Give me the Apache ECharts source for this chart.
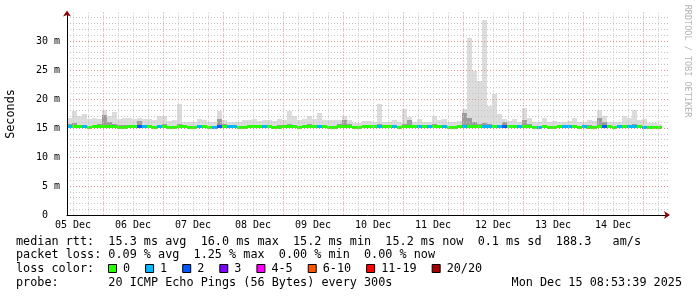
<!DOCTYPE html>
<html><head><meta charset="utf-8">
<script src="https://cdn.jsdelivr.net/npm/echarts@6/dist/echarts.min.js"></script>
<style>html,body{margin:0;padding:0;background:#fff}#c{width:697px;height:297px}</style>
</head><body><div id="c"></div>
<script>
// ---- axis ranges (x in days of December, y in milliseconds) ----
const X_START = 5.4, X_END = 15.4167;
const Y_MAX = 34.9;
const BIN_DAYS = 1 / 12;      // 2 hour consolidation
const SMOKE_MIN = 15.0;

// ---- data (one value per 2 h bin, starting at X_START) ----
const smokeHi = [
 16.8,18.0,17.0,17.4,16.5,16.7,16.5,18.1,17.0,17.7,
 16.6,16.8,16.8,16.5,16.8,16.5,16.6,16.4,17.0,17.1,
 16.2,16.3,19.1,16.0,16.0,16.1,16.6,16.3,16.0,16.0,
 18.0,16.3,16.0,16.0,16.1,16.4,16.3,16.6,16.2,16.4,
 16.4,16.2,16.6,16.3,17.9,17.0,16.4,16.5,17.0,16.5,
 17.5,16.4,16.3,16.3,16.4,17.1,16.4,15.9,15.9,16.2,
 16.2,16.0,19.1,16.0,16.0,16.3,16.0,18.3,16.9,16.0,
 16.6,16.0,16.0,17.0,16.3,16.6,16.0,16.0,16.2,18.3,
 30.5,24.8,23.1,33.6,18.8,20.8,17.4,16.6,16.2,16.6,
 16.0,18.5,16.8,16.0,16.0,16.8,16.0,16.2,16.0,16.1,
 16.2,16.7,16.1,16.0,16.4,16.2,18.1,17.0,16.0,16.0,
 16.1,17.1,16.8,18.1,16.3,16.6,15.9,15.8,15.6
];
const smokeCore = [
 15.6,15.8,15.5,15.5,15.4,15.5,15.6,17.3,16.0,15.6,
 15.5,15.5,15.5,15.4,16.2,15.5,15.4,15.4,15.5,15.6,
 15.4,15.4,15.6,15.4,15.4,15.4,15.5,15.4,15.4,15.4,
 16.5,15.6,15.4,15.4,15.4,15.4,15.4,15.5,15.4,15.4,
 15.4,15.4,15.5,15.4,15.6,15.5,15.4,15.5,15.6,15.4,
 15.5,15.4,15.4,15.4,15.6,16.4,15.6,15.4,15.4,15.4,
 15.4,15.4,15.6,15.4,15.4,15.4,15.4,15.7,16.3,15.4,
 15.5,15.4,15.4,15.6,15.4,15.4,15.4,15.4,15.4,17.6,
 16.8,16.0,15.6,15.8,15.6,15.5,15.5,16.0,15.5,15.5,
 15.4,16.4,15.6,15.4,15.4,15.5,15.4,15.4,15.4,15.4,
 15.4,15.5,15.4,15.4,15.5,15.4,16.8,16.0,15.4,15.4,
 15.4,15.5,15.5,15.6,15.4,15.4,15.4,15.4,15.4
];
const medianRtt = [
 15.2,15.3,15.2,15.2,15.1,15.2,15.2,15.3,15.2,15.2,
 15.1,15.1,15.2,15.2,15.3,15.2,15.2,15.1,15.2,15.2,
 15.1,15.1,15.2,15.2,15.1,15.1,15.2,15.2,15.1,15.1,
 15.3,15.2,15.2,15.2,15.1,15.1,15.2,15.2,15.2,15.2,
 15.2,15.1,15.1,15.2,15.2,15.2,15.1,15.2,15.2,15.2,
 15.2,15.2,15.1,15.1,15.2,15.2,15.2,15.1,15.1,15.2,
 15.2,15.2,15.2,15.2,15.2,15.2,15.1,15.2,15.2,15.2,
 15.2,15.2,15.2,15.2,15.2,15.2,15.1,15.1,15.2,15.3,
 15.3,15.2,15.2,15.2,15.2,15.2,15.2,15.3,15.2,15.2,
 15.2,15.2,15.2,15.1,15.1,15.2,15.1,15.1,15.2,15.2,
 15.2,15.2,15.1,15.2,15.1,15.1,15.3,15.3,15.2,15.1,
 15.2,15.2,15.2,15.2,15.2,15.1,15.1,15.1,15.1
];
const lossCount = [
 1,0,0,1,0,0,0,0,0,0,
 0,0,0,0,2,1,0,0,1,0,
 0,0,0,0,0,0,1,0,0,1,
 2,0,1,1,0,0,0,0,0,1,
 0,0,0,0,0,0,0,0,0,0,
 1,0,0,0,0,0,0,0,0,0,
 0,0,1,0,0,1,0,0,0,0,
 1,0,1,0,0,1,0,0,0,1,
 0,0,0,1,1,0,1,2,0,0,
 1,0,0,0,1,0,0,0,0,1,
 1,0,0,1,0,0,0,2,0,0,
 1,0,1,1,0,1,0,0,0
];

// ---- ticks / labels ----
const xLabelDays = [5.5,6.5,7.5,8.5,9.5,10.5,11.5,12.5,13.5,14.5];
const xLabels = ['05 Dec','06 Dec','07 Dec','08 Dec','09 Dec','10 Dec','11 Dec','12 Dec','13 Dec','14 Dec'];
const xMajorDays = [6,7,8,9,10,11,12,13,14,15];
const X_MINOR_STEP = 0.25;
const yLabelVals = [0,5,10,15,20,25,30];
const Y_MINOR_STEP = 1;

// ---- legend ----
const lossLabels = ['0','1','2','3','4-5','6-10','11-19','20/20'];
const lossColors = ['#26ff00','#00b8ff','#0059ff','#7e00ff','#ff00ff','#ff5500','#ff0000','#a10000'];
const statLines = [
 'median rtt:  15.3 ms avg  16.0 ms max  15.2 ms min  15.2 ms now  0.1 ms sd  188.3   am/s',
 'packet loss: 0.09 % avg  1.25 % max  0.00 % min  0.00 % now',
 'loss color:',
 'probe:       20 ICMP Echo Pings (56 Bytes) every 300s'
];
const stamp = 'Mon Dec 15 08:53:39 2025';
const watermark = 'RRDTOOL / TOBI OETIKER';

// ---- derived ----
const xMinor = [], yMinor = [], yMajor = [];
for (let d = 5.5; d < X_END; d += X_MINOR_STEP) if (Math.abs(d - Math.round(d)) > 1e-6) xMinor.push(+d.toFixed(4));
for (let v = Y_MINOR_STEP; v < Y_MAX; v += Y_MINOR_STEP) { if (v % 5) yMinor.push(v); else yMajor.push(v); }

const smokeData = smokeHi.map((h, i) => [X_START + i * BIN_DAYS, SMOKE_MIN, smokeCore[i], h]);
const medData = medianRtt.map((m, i) => [X_START + i * BIN_DAYS, m, lossCount[i]]);

const MONO = 'DejaVu Sans Mono';
const LEG_FS = 11.8, AX_FS = 10;
const MINOR_C = '#c4c4c4', MAJOR_C = '#e48c8c';
const DASH = [1, 2];

function renderSmoke(params, api) {
  const t = api.value(0);
  const xa = Math.round(api.coord([t, 0])[0]);
  const xb = Math.round(api.coord([t + BIN_DAYS, 0])[0]);
  const yLo = Math.round(api.coord([t, api.value(1)])[1]);
  const yCore = Math.round(api.coord([t, api.value(2)])[1]);
  const yHi = Math.round(api.coord([t, api.value(3)])[1]);
  return {type: 'group', children: [
    {type: 'rect', shape: {x: xa, y: yHi, width: xb - xa, height: yLo - yHi}, style: {fill: '#dcdcdc'}},
    {type: 'rect', shape: {x: xa, y: yCore, width: xb - xa, height: yLo - yCore}, style: {fill: '#9c9c9c'}}
  ]};
}
function renderMedian(params, api) {
  const t = api.value(0);
  const xa = Math.round(api.coord([t, 0])[0]);
  const xb = Math.round(api.coord([t + BIN_DAYS, 0])[0]);
  const y = Math.floor(api.coord([t, api.value(1)])[1]) - 1;
  return {type: 'rect', shape: {x: xa, y: y, width: xb - xa, height: 3}, style: {fill: lossColors[api.value(2)]}};
}

// graphic texts
const graphics = [];
const lineY = [241.5, 255, 269.3, 283.3];
statLines.forEach((s, i) => graphics.push({type: 'text', x: 16, y: lineY[i],
  style: {text: s, fontFamily: MONO, fontSize: LEG_FS, fill: '#000', align: 'left', verticalAlign: 'middle'}}));
graphics.push({type: 'text', x: 682, y: lineY[3],
  style: {text: stamp, fontFamily: MONO, fontSize: LEG_FS, fill: '#000', align: 'right', verticalAlign: 'middle'}});
let bx = 108;
const CH = LEG_FS * 0.602;
lossLabels.forEach((lab, i) => {
  graphics.push({type: 'rect', shape: {x: bx + 0.5, y: 264.5, width: 8, height: 8},
    style: {fill: lossColors[i], stroke: '#000', lineWidth: 1}});
  graphics.push({type: 'text', x: bx + 15, y: lineY[2],
    style: {text: lab, fontFamily: MONO, fontSize: LEG_FS, fill: '#000', align: 'left', verticalAlign: 'middle'}});
  bx = bx + 15 + lab.length * CH + 15;
});
graphics.push({type: 'text', x: 11, y: 114, rotation: Math.PI / 2,
  style: {text: 'Seconds', fontFamily: MONO, fontSize: LEG_FS, fill: '#000', align: 'center', verticalAlign: 'middle'}});
graphics.push({type: 'text', x: 687, y: 61, rotation: -Math.PI / 2,
  style: {text: watermark, fontFamily: MONO, fontSize: 8.5, fill: '#b4b4b4', align: 'center', verticalAlign: 'middle'}});

const chart = echarts.init(document.getElementById('c'), null, {renderer: 'canvas'});
chart.setOption({
  animation: false,
  backgroundColor: '#fff',
  grid: {left: 67, right: 29, top: 12.5, bottom: 82, outerBoundsMode: 'none'},
  xAxis: [
    {type: 'value', min: X_START, max: X_END, position: 'bottom', z: 3,
     axisLine: {show: true, onZero: false, lineStyle: {color: '#000', width: 1}},
     axisTick: {show: false, customValues: xMinor},
     splitLine: {show: true, lineStyle: {color: MINOR_C, width: 1, type: DASH}},
     axisLabel: {show: true, customValues: xLabelDays, formatter: v => xLabels[xLabelDays.indexOf(v)],
                 fontFamily: MONO, fontSize: AX_FS, color: '#000', margin: 5}},
    {type: 'value', min: X_START, max: X_END, position: 'bottom', z: 3,
     axisLine: {show: true, onZero: false, symbol: ['none', 'arrow'], symbolSize: [6, 6], symbolOffset: [0, 2],
                lineStyle: {color: '#8b0000', width: 0.01}},
     axisTick: {show: false, customValues: xMajorDays},
     splitLine: {show: true, lineStyle: {color: MAJOR_C, width: 1, type: DASH}},
     axisLabel: {show: false}}
  ],
  yAxis: [
    {type: 'value', min: 0, max: Y_MAX, position: 'left', z: 3,
     axisLine: {show: true, onZero: false, lineStyle: {color: '#000', width: 1}},
     axisTick: {show: false, customValues: yMinor},
     splitLine: {show: true, lineStyle: {color: MINOR_C, width: 1, type: DASH}},
     axisLabel: {show: true, customValues: yLabelVals, formatter: v => v === 0 ? '0  ' : v + ' m',
                 fontFamily: MONO, fontSize: AX_FS, color: '#000', margin: 7}},
    {type: 'value', min: 0, max: Y_MAX, position: 'left', z: 3,
     axisLine: {show: true, onZero: false, symbol: ['none', 'arrow'], symbolSize: [6, 6], symbolOffset: [0, 2],
                lineStyle: {color: '#8b0000', width: 0.01}},
     axisTick: {show: false, customValues: yMajor},
     splitLine: {show: true, lineStyle: {color: MAJOR_C, width: 1, type: DASH}},
     axisLabel: {show: false}}
  ],
  series: [
    {type: 'custom', name: 'smoke', xAxisIndex: 0, yAxisIndex: 0, z: 1, renderItem: renderSmoke, data: smokeData, silent: true},
    {type: 'custom', name: 'median rtt', xAxisIndex: 0, yAxisIndex: 0, z: 2, renderItem: renderMedian, data: medData, silent: true}
  ],
  graphic: graphics
});
</script>
</body></html>
